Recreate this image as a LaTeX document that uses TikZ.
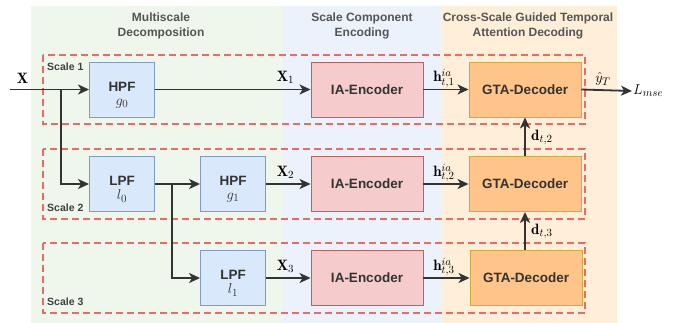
\documentclass[tikz,border=0pt]{standalone}
\usepackage{fontspec}
\setsansfont{Liberation Sans}
\usetikzlibrary{arrows.meta}

\definecolor{bggreen}{HTML}{EFF6EB}
\definecolor{bgblue}{HTML}{EBF2FB}
\definecolor{bgorange}{HTML}{FFEFD9}
\definecolor{filtfill}{HTML}{DAE8FC}
\definecolor{filtline}{HTML}{7D9BCB}
\definecolor{encfill}{HTML}{F5CCCB}
\definecolor{encline}{HTML}{C0605D}
\definecolor{decfill}{HTML}{FFC48A}
\definecolor{decline}{HTML}{D6A73C}
\definecolor{scaleline}{HTML}{EA6B66}
\definecolor{wire}{HTML}{333333}
\definecolor{headgray}{HTML}{555555}

\newcommand\filtlab[2]{\rule{0pt}{20pt}#1\\{\fontsize{15}{15}\selectfont$#2$}}

\tikzset{
  filt/.style={draw=filtline, fill=filtfill, line width=0.9pt, minimum width=65pt, minimum height=55pt, align=center, inner sep=0pt, font=\fontsize{13.5}{14}\selectfont\sffamily\bfseries, text=black!80},
  enc/.style={draw=encline, fill=encfill, line width=0.9pt, minimum width=112pt, minimum height=55pt, inner sep=0pt, font=\fontsize{13.5}{17}\selectfont\sffamily\bfseries, text=black!80},
  dec/.style={draw=decline, fill=decfill, line width=0.9pt, minimum width=112pt, minimum height=55pt, inner sep=0pt, font=\fontsize{13.5}{17}\selectfont\sffamily\bfseries, text=black!80},
  scalebox/.style={draw=scaleline, line width=1.5pt, dash pattern=on 7pt off 4pt},
  scalelab/.style={font=\fontsize{10.5}{12}\selectfont\sffamily\bfseries, text=black!75, inner sep=0pt},
  head/.style={align=center, font=\fontsize{12}{15}\selectfont\sffamily\bfseries, text=headgray},
  wirearrow/.style={draw=wire, line width=1.8pt, -{Stealth[length=11pt,width=10pt,inset=3pt]}},
  lab/.style={font=\fontsize{15}{16}\selectfont, inner sep=1pt}
}

\begin{document}
\begin{tikzpicture}[x=1pt,y=1pt,yscale=-1]
\useasboundingbox (0,0) rectangle (677,323);

% stage panels
\fill [bggreen] (31,6) rectangle (283,323);
\fill [bgblue] (283,6) rectangle (441,323);
\fill [bgorange] (441,6) rectangle (617,323);

\node [head] (h1) at (161,26) {Multiscale\\Decomposition};
\node [head] (h2) at (362,26) {Scale Component\\Encoding};
\node [head] (h3) at (528,26) {Cross-Scale Guided Temporal\\Attention Decoding};

% scale frames
\draw [scalebox] (43,55) rectangle (585,124);
\draw [scalebox] (43,149) rectangle (585,219);
\draw [scalebox] (43,243) rectangle (585,313);
\node [scalelab, anchor=west] (s1) at (47,67) {Scale 1};
\node [scalelab, anchor=west] (s2) at (47,208) {Scale 2};
\node [scalelab, anchor=west] (s3) at (47,302) {Scale 3};

% blocks
\node [filt] (hpf0) at (122,89.5) {\filtlab{HPF}{g_0}};
\node [filt] (lpf0) at (122,184) {\filtlab{LPF}{l_0}};
\node [filt] (hpf1) at (233,184) {\filtlab{HPF}{g_1}};
\node [filt] (lpf1) at (233,278) {\filtlab{LPF}{l_1}};

\node [enc] (enc1) at (367,89.5) {IA-Encoder};
\node [enc] (enc2) at (367,184) {IA-Encoder};
\node [enc] (enc3) at (367,278) {IA-Encoder};

\node [dec] (dec1) at (525,89.5) {GTA-Decoder};
\node [dec] (dec2) at (525,184) {GTA-Decoder};
\node [dec] (dec3) at (526,278) {GTA-Decoder};

\node [lab, anchor=west] (loss) at (632,91) {$L_{mse}$};

% wires
\coordinate (xin) at (10,89.5);
\coordinate (br0) at (61,89.5);
\coordinate (br1) at (172,184);

\draw [wirearrow] (xin) -- (hpf0.west);
\node [lab] (xlab) at (22.5,78.5) {$\mathbf{X}$};
\draw [wirearrow] (br0) |- (lpf0.west);
\draw [wirearrow] (lpf0.east) -- (hpf1.west);
\draw [wirearrow] (br1) |- (lpf1.west);

\draw [wirearrow] (hpf0.east) -- (enc1.west);
\draw [wirearrow] (hpf1.east) -- (enc2.west);
\draw [wirearrow] (lpf1.east) -- (enc3.west);
\node [lab] (x1lab) at (285.5,77.5) {$\mathbf{X}_1$};
\node [lab] (x2lab) at (285.5,172) {$\mathbf{X}_2$};
\node [lab] (x3lab) at (285.5,266) {$\mathbf{X}_3$};

\draw [wirearrow] (enc1.east) -- (dec1.west);
\draw [wirearrow] (enc2.east) -- (dec2.west);
\draw [wirearrow] (enc3.east) -- (dec3.west);
\node [lab] (h1lab) at (444,78.5) {$\mathbf{h}^{ia}_{t,1}$};
\node [lab] (h2lab) at (444,173) {$\mathbf{h}^{ia}_{t,2}$};
\node [lab] (h3lab) at (444,267) {$\mathbf{h}^{ia}_{t,3}$};

\draw [wirearrow] (dec1.east) -- (loss.west);
\node [lab] (ylab) at (603,79) {$\hat{y}_T$};

\draw [wirearrow] (dec2.north) -- (dec1.south);
\draw [wirearrow] (dec3.north -| dec2.south) -- (dec2.south);
\node [lab, anchor=west] (d2lab) at (530,137.5) {$\mathbf{d}_{t,2}$};
\node [lab, anchor=west] (d3lab) at (530,231.5) {$\mathbf{d}_{t,3}$};
\end{tikzpicture}
\end{document}
